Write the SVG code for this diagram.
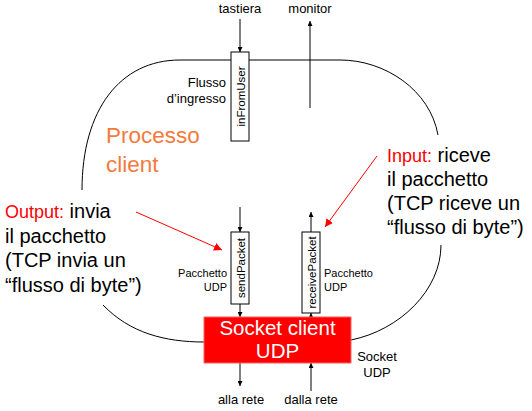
<svg xmlns="http://www.w3.org/2000/svg" width="532" height="411" viewBox="0 0 532 411">
<defs>
<style>
text{font-family:"Liberation Sans",Arial,sans-serif;fill:#000}
.sm{font-size:13px}
.xs{font-size:11px}
.rot{font-size:11.5px}
.big{font-size:20px}
.red{fill:#FF0000}
.org{fill:#F47A3C;font-size:22.5px}
.wh{fill:#fff;font-size:20.5px}
.line{fill:none;stroke:#000;stroke-width:1}
.box{fill:#fff;stroke:#000;stroke-width:1}
.arr{stroke:#000;stroke-width:1;fill:none;marker-end:url(#ah)}
.rarr{stroke:#FF0000;stroke-width:1;fill:none;marker-end:url(#rh)}
</style>
<marker id="ah" viewBox="0 0 10 10" refX="10" refY="5" markerWidth="5" markerHeight="5" orient="auto" markerUnits="userSpaceOnUse"><path d="M0,0 L10,5 L0,10 z" fill="#000"/></marker>
<marker id="rh" viewBox="0 0 10 10" refX="10" refY="5" markerWidth="8" markerHeight="8" orient="auto" markerUnits="userSpaceOnUse"><path d="M0,0 L10,5 L0,10 z" fill="#FF0000"/></marker>
</defs>
<rect width="532" height="411" fill="#fff"/>
<g id="outline">
<path class="line" d="M82,190 C82,110 120,60 180,60 L340,60 C385,60 430,90 438,135"/>
<path class="line" d="M103,305 C130,333 165,342 204,342"/>
<path class="line" d="M351,340 C400,330 441,290 441,245"/>
</g>
<g id="connectors">
<line class="arr" x1="240" y1="19" x2="240" y2="52"/>
<line class="arr" x1="310" y1="108" x2="310" y2="21"/>
<line class="arr" x1="240" y1="207" x2="240" y2="232"/>
<line class="arr" x1="240" y1="304" x2="240" y2="317"/>
<line class="arr" x1="311" y1="232" x2="311" y2="212"/>
<line class="arr" x1="311" y1="317" x2="311" y2="313"/>
<line class="arr" x1="240" y1="363" x2="240" y2="386"/>
<line class="arr" x1="311" y1="391" x2="311" y2="363"/>
<line class="rarr" x1="136" y1="212" x2="222" y2="250"/>
<line class="rarr" x1="377" y1="156" x2="325" y2="227"/>
</g>
<g id="labels">
<text class="sm" x="240" y="13" text-anchor="middle">tastiera</text>
<text class="sm" x="310" y="13" text-anchor="middle">monitor</text>
<text class="sm" x="226" y="87" text-anchor="end">Flusso</text>
<text class="sm" x="226" y="103" text-anchor="end">d’ingresso</text>
<text class="org" x="106" y="143">Processo</text>
<text class="org" x="106" y="172">client</text>
<text class="xs" x="227" y="277" text-anchor="end">Pacchetto</text>
<text class="xs" x="227" y="291" text-anchor="end">UDP</text>
<text class="xs" x="324" y="277">Pacchetto</text>
<text class="xs" x="324" y="291">UDP</text>
<text class="sm" x="377" y="361" text-anchor="middle">Socket</text>
<text class="sm" x="377" y="377" text-anchor="middle">UDP</text>
<text class="sm" x="241" y="404" text-anchor="middle">alla rete</text>
<text class="sm" x="311" y="404" text-anchor="middle">dalla rete</text>
</g>
<g id="output-note">
<text x="5" y="218"><tspan class="red" font-size="18">Output:</tspan><tspan font-size="20"> invia</tspan></text>
<text class="big" x="5" y="243">il pacchetto</text>
<text class="big" x="5" y="267">(TCP invia un</text>
<text class="big" x="5" y="292">“flusso di byte”)</text>
</g>
<g id="input-note">
<text x="387" y="162"><tspan class="red" font-size="18">Input:</tspan><tspan font-size="20"> riceve</tspan></text>
<text class="big" x="387" y="186">il pacchetto</text>
<text class="big" x="387" y="210">(TCP riceve un</text>
<text class="big" x="387" y="234">“flusso di byte”)</text>
</g>
<g id="inFromUser">
<rect class="box" x="231" y="52" width="18" height="89"/>
<text class="rot" transform="translate(244.5,96.5) rotate(-90)" text-anchor="middle">inFromUser</text>
</g>
<g id="sendPacket">
<rect class="box" x="231" y="232" width="18" height="72"/>
<text class="rot" transform="translate(244.5,268) rotate(-90)" text-anchor="middle">sendPacket</text>
</g>
<g id="receivePacket">
<rect class="box" x="302" y="232" width="18" height="81"/>
<text class="rot" transform="translate(315.5,272.5) rotate(-90)" text-anchor="middle">receivePacket</text>
</g>
<g id="socket">
<rect x="204" y="317" width="147" height="46" fill="#FF0000" stroke="#FF6060" stroke-width="1"/>
<text class="wh" x="277.5" y="335" text-anchor="middle">Socket client</text>
<text class="wh" x="277.5" y="358" text-anchor="middle">UDP</text>
</g>
</svg>
